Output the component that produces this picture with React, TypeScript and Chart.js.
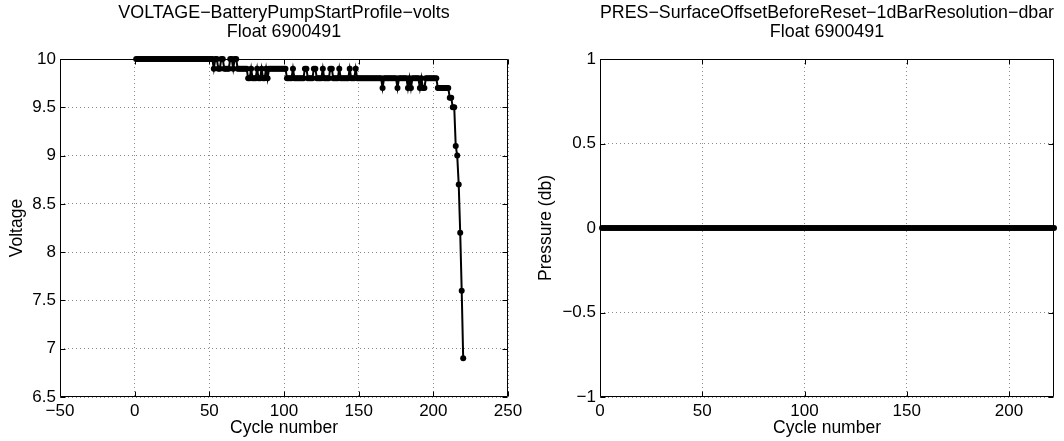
import { useEffect, useRef } from "react";
import { Chart, registerables } from "chart.js";

Chart.register(...registerables);

const FONT = '"Liberation Sans", Arial, Helvetica, sans-serif';

// ---------------- data ----------------
const voltageCycles = [
  1, 2, 3, 4, 5, 6, 7, 8, 9, 10,
  11, 12, 13, 14, 15, 16, 17, 18, 19, 20,
  21, 22, 23, 24, 25, 26, 27, 28, 29, 30,
  31, 32, 33, 34, 35, 36, 37, 38, 39, 40,
  41, 42, 43, 44, 45, 46, 47, 48, 49, 50,
  51, 52, 53, 54, 55, 56, 57, 58, 59, 60,
  61, 62, 63, 64, 65, 66, 67, 68, 69, 70,
  71, 72, 73, 74, 75, 76, 77, 78, 79, 80,
  81, 82, 83, 84, 85, 86, 87, 88, 89, 90,
  91, 92, 93, 94, 95, 96, 97, 98, 99, 100,
  101, 102, 103, 104, 105, 106, 107, 108, 109, 110,
  111, 112, 113, 114, 115, 116, 117, 118, 119, 120,
  121, 122, 123, 124, 125, 126, 127, 128, 129, 130,
  131, 132, 133, 134, 135, 136, 137, 138, 139, 140,
  141, 142, 143, 144, 145, 146, 147, 148, 149, 150,
  151, 152, 153, 154, 155, 156, 157, 158, 159, 160,
  161, 162, 163, 164, 165, 166, 167, 168, 169, 170,
  171, 172, 173, 174, 175, 176, 177, 178, 179, 180,
  181, 182, 183, 184, 185, 186, 187, 188, 189, 190,
  191, 192, 193, 194, 195, 196, 197, 198, 199, 200,
  201, 202, 203, 204, 205, 206, 207, 208, 209, 210,
  211, 212, 213, 214, 215, 216, 217, 218, 219, 220,
];

const voltageValues = [
  10, 10, 10, 10, 10, 10, 10, 10, 10, 10,
  10, 10, 10, 10, 10, 10, 10, 10, 10, 10,
  10, 10, 10, 10, 10, 10, 10, 10, 10, 10,
  10, 10, 10, 10, 10, 10, 10, 10, 10, 10,
  10, 10, 10, 10, 10, 10, 10, 10, 10, 10,
  10, 10, 9.9, 10, 10, 9.9, 9.9, 10, 10, 9.9,
  9.9, 9.9, 9.9, 10, 10, 9.9, 10, 10, 9.9, 9.9,
  9.9, 9.9, 9.9, 9.9, 9.9, 9.8, 9.8, 9.9, 9.8, 9.8,
  9.8, 9.9, 9.8, 9.8, 9.9, 9.8, 9.8, 9.9, 9.8, 9.9,
  9.9, 9.9, 9.9, 9.9, 9.9, 9.9, 9.9, 9.9, 9.9, 9.9,
  9.9, 9.8, 9.8, 9.8, 9.8, 9.9, 9.8, 9.8, 9.8, 9.8,
  9.8, 9.8, 9.8, 9.9, 9.9, 9.8, 9.8, 9.8, 9.8, 9.9,
  9.9, 9.8, 9.8, 9.8, 9.8, 9.9, 9.8, 9.8, 9.8, 9.8,
  9.9, 9.9, 9.8, 9.8, 9.8, 9.8, 9.9, 9.8, 9.8, 9.8,
  9.8, 9.8, 9.8, 9.9, 9.8, 9.8, 9.8, 9.9, 9.8, 9.8,
  9.8, 9.8, 9.8, 9.8, 9.8, 9.8, 9.8, 9.8, 9.8, 9.8,
  9.8, 9.8, 9.8, 9.8, 9.8, 9.7, 9.8, 9.8, 9.8, 9.8,
  9.8, 9.8, 9.8, 9.8, 9.8, 9.7, 9.8, 9.8, 9.8, 9.8,
  9.8, 9.8, 9.7, 9.8, 9.7, 9.8, 9.8, 9.8, 9.8, 9.8,
  9.7, 9.8, 9.7, 9.7, 9.8, 9.8, 9.8, 9.8, 9.8, 9.8,
  9.8, 9.8, 9.7, 9.7, 9.7, 9.7, 9.7, 9.7, 9.7, 9.7,
  9.6, 9.6, 9.5, 9.5, 9.1, 9.0, 8.7, 8.2, 7.6, 6.9,
];

const pressureCycles = [
  1, 2, 3, 4, 5, 6, 7, 8, 9, 10,
  11, 12, 13, 14, 15, 16, 17, 18, 19, 20,
  21, 22, 23, 24, 25, 26, 27, 28, 29, 30,
  31, 32, 33, 34, 35, 36, 37, 38, 39, 40,
  41, 42, 43, 44, 45, 46, 47, 48, 49, 50,
  51, 52, 53, 54, 55, 56, 57, 58, 59, 60,
  61, 62, 63, 64, 65, 66, 67, 68, 69, 70,
  71, 72, 73, 74, 75, 76, 77, 78, 79, 80,
  81, 82, 83, 84, 85, 86, 87, 88, 89, 90,
  91, 92, 93, 94, 95, 96, 97, 98, 99, 100,
  101, 102, 103, 104, 105, 106, 107, 108, 109, 110,
  111, 112, 113, 114, 115, 116, 117, 118, 119, 120,
  121, 122, 123, 124, 125, 126, 127, 128, 129, 130,
  131, 132, 133, 134, 135, 136, 137, 138, 139, 140,
  141, 142, 143, 144, 145, 146, 147, 148, 149, 150,
  151, 152, 153, 154, 155, 156, 157, 158, 159, 160,
  161, 162, 163, 164, 165, 166, 167, 168, 169, 170,
  171, 172, 173, 174, 175, 176, 177, 178, 179, 180,
  181, 182, 183, 184, 185, 186, 187, 188, 189, 190,
  191, 192, 193, 194, 195, 196, 197, 198, 199, 200,
  201, 202, 203, 204, 205, 206, 207, 208, 209, 210,
  211, 212, 213, 214, 215, 216, 217, 218, 219, 220,
  221, 222,
];

const pressureValues = [
  0, 0, 0, 0, 0, 0, 0, 0, 0, 0,
  0, 0, 0, 0, 0, 0, 0, 0, 0, 0,
  0, 0, 0, 0, 0, 0, 0, 0, 0, 0,
  0, 0, 0, 0, 0, 0, 0, 0, 0, 0,
  0, 0, 0, 0, 0, 0, 0, 0, 0, 0,
  0, 0, 0, 0, 0, 0, 0, 0, 0, 0,
  0, 0, 0, 0, 0, 0, 0, 0, 0, 0,
  0, 0, 0, 0, 0, 0, 0, 0, 0, 0,
  0, 0, 0, 0, 0, 0, 0, 0, 0, 0,
  0, 0, 0, 0, 0, 0, 0, 0, 0, 0,
  0, 0, 0, 0, 0, 0, 0, 0, 0, 0,
  0, 0, 0, 0, 0, 0, 0, 0, 0, 0,
  0, 0, 0, 0, 0, 0, 0, 0, 0, 0,
  0, 0, 0, 0, 0, 0, 0, 0, 0, 0,
  0, 0, 0, 0, 0, 0, 0, 0, 0, 0,
  0, 0, 0, 0, 0, 0, 0, 0, 0, 0,
  0, 0, 0, 0, 0, 0, 0, 0, 0, 0,
  0, 0, 0, 0, 0, 0, 0, 0, 0, 0,
  0, 0, 0, 0, 0, 0, 0, 0, 0, 0,
  0, 0, 0, 0, 0, 0, 0, 0, 0, 0,
  0, 0, 0, 0, 0, 0, 0, 0, 0, 0,
  0, 0, 0, 0, 0, 0, 0, 0, 0, 0,
  0, 0,
];

const leftTitle = ["VOLTAGE\u2212BatteryPumpStartProfile\u2212volts", "Float 6900491"];
const rightTitle = ["PRES\u2212SurfaceOffsetBeforeReset\u22121dBarResolution\u2212dbar", "Float 6900491"];
const xAxisLabel = "Cycle number";
const leftYLabel = "Voltage";
const rightYLabel = "Pressure (db)";

const leftXTicks = [-50, 0, 50, 100, 150, 200, 250];
const leftYTicks = [6.5, 7, 7.5, 8, 8.5, 9, 9.5, 10];
const rightXTicks = [0, 50, 100, 150, 200];
const rightYTicks = [-1, -0.5, 0, 0.5, 1];
const rightXMax = 222;

// ---------------- helpers ----------------
const fmt = (v: number) => (v < 0 ? "\u2212" + String(Math.abs(v)) : String(v));

const boxPlugin = {
  id: "matlabBox",
  afterDraw(chart: any) {
    const { ctx, chartArea } = chart;
    const { left, right, top, bottom } = chartArea;
    const L = Math.round(left) + 0.5;
    const R = Math.round(right) - 0.5;
    const T = Math.round(top) + 0.5;
    const B = Math.round(bottom) - 0.5;
    const tl = 5;
    ctx.save();
    ctx.strokeStyle = "#000";
    ctx.lineWidth = 1;
    ctx.setLineDash([]);
    ctx.beginPath();
    ctx.rect(L, T, R - L, B - T);
    const xs = chart.scales.x;
    const ys = chart.scales.y;
    xs.ticks.forEach((t: any) => {
      const p = Math.round(xs.getPixelForValue(t.value)) + 0.5;
      ctx.moveTo(p, B);
      ctx.lineTo(p, B - tl);
      ctx.moveTo(p, T);
      ctx.lineTo(p, T + tl);
    });
    ys.ticks.forEach((t: any) => {
      const p = Math.round(ys.getPixelForValue(t.value)) + 0.5;
      ctx.moveTo(L, p);
      ctx.lineTo(L + tl, p);
      ctx.moveTo(R, p);
      ctx.lineTo(R - tl, p);
    });
    ctx.stroke();
    ctx.restore();
  },
};

function makeConfig(opts: {
  xs: number[];
  ys: number[];
  title: string[];
  yLabel: string;
  xTicks: number[];
  yTicks: number[];
  xMin: number;
  xMax: number;
  yMin: number;
  yMax: number;
  yAxisWidth: number;
  rightPad: number;
  yTitlePad: number;
}): any {
  const points = opts.xs.map((x, i) => ({ x, y: opts.ys[i] }));
  const tickFont = { family: FONT, size: 17, lineHeight: 1.2 };
  const labelFont = { family: FONT, size: 17.5, lineHeight: 1.15 };
  return {
    type: "line",
    data: {
      datasets: [
        {
          data: points,
          borderColor: "#000",
          backgroundColor: "#000",
          borderWidth: 2,
          pointRadius: 3,
          pointBorderWidth: 0,
          pointHoverRadius: 3,
          pointBackgroundColor: "#000",
          tension: 0,
          clip: false,
        },
      ],
    },
    options: {
      responsive: false,
      animation: false,
      events: [],
      layout: { padding: { left: 0, right: opts.rightPad, top: 0, bottom: 0 } },
      plugins: {
        legend: { display: false },
        tooltip: { enabled: false },
        title: {
          display: true,
          fullSize: false,
          text: opts.title,
          color: "#000",
          font: { family: FONT, size: 17.9, lineHeight: 1.062, weight: "normal" },
          padding: { top: 3.5, bottom: 17.5 },
        },
      },
      scales: {
        x: {
          type: "linear",
          min: opts.xMin,
          max: opts.xMax,
          afterBuildTicks: (s: any) => {
            s.ticks = opts.xTicks.map((v) => ({ value: v }));
          },
          afterFit: (s: any) => {
            s.height = 44;
          },
          ticks: {
            color: "#000",
            font: tickFont,
            padding: 4,
            maxRotation: 0,
            autoSkip: false,
            callback: (v: number) => fmt(v),
          },
          grid: { color: "rgba(0,0,0,0.45)", lineWidth: 1, drawTicks: false },
          border: { display: false, dash: [1, 3] },
          title: {
            display: true,
            text: xAxisLabel,
            color: "#000",
            font: labelFont,
            padding: { top: 0, bottom: 3 },
          },
        },
        y: {
          type: "linear",
          min: opts.yMin,
          max: opts.yMax,
          afterBuildTicks: (s: any) => {
            s.ticks = opts.yTicks.map((v) => ({ value: v }));
          },
          afterFit: (s: any) => {
            s.width = opts.yAxisWidth;
          },
          ticks: {
            color: "#000",
            font: tickFont,
            padding: 4,
            autoSkip: false,
            callback: (v: number) => fmt(v),
          },
          grid: { color: "rgba(0,0,0,0.45)", lineWidth: 1, drawTicks: false },
          border: { display: false, dash: [1, 3] },
          title: {
            display: true,
            text: opts.yLabel,
            color: "#000",
            font: labelFont,
            padding: { top: opts.yTitlePad, bottom: 0 },
          },
        },
      },
    },
    plugins: [boxPlugin],
  };
}

export default function App() {
  const leftRef = useRef<HTMLCanvasElement>(null);
  const rightRef = useRef<HTMLCanvasElement>(null);

  useEffect(() => {
    const left = new Chart(
      leftRef.current as HTMLCanvasElement,
      makeConfig({
        xs: voltageCycles,
        ys: voltageValues,
        title: leftTitle,
        yLabel: leftYLabel,
        xTicks: leftXTicks,
        yTicks: leftYTicks,
        xMin: -50,
        xMax: 250,
        yMin: 6.5,
        yMax: 10,
        yAxisWidth: 60,
        rightPad: 60,
        yTitlePad: 7,
      })
    );
    const right = new Chart(
      rightRef.current as HTMLCanvasElement,
      makeConfig({
        xs: pressureCycles,
        ys: pressureValues,
        title: rightTitle,
        yLabel: rightYLabel,
        xTicks: rightXTicks,
        yTicks: rightYTicks,
        xMin: 0,
        xMax: rightXMax,
        yMin: -1,
        yMax: 1,
        yAxisWidth: 70,
        rightPad: 70,
        yTitlePad: 6,
      })
    );
    return () => {
      left.destroy();
      right.destroy();
    };
  }, []);

  return (
    <div
      style={{
        position: "fixed",
        left: 0,
        top: 0,
        width: 1064,
        height: 441,
        overflow: "hidden",
        background: "#fff",
      }}
    >
      <canvas
        ref={leftRef}
        width={568}
        height={441}
        style={{ position: "absolute", left: 0, top: 0, width: 568, height: 441 }}
      />
      <canvas
        ref={rightRef}
        width={594}
        height={441}
        style={{ position: "absolute", left: 530, top: 0, width: 594, height: 441 }}
      />
    </div>
  );
}
